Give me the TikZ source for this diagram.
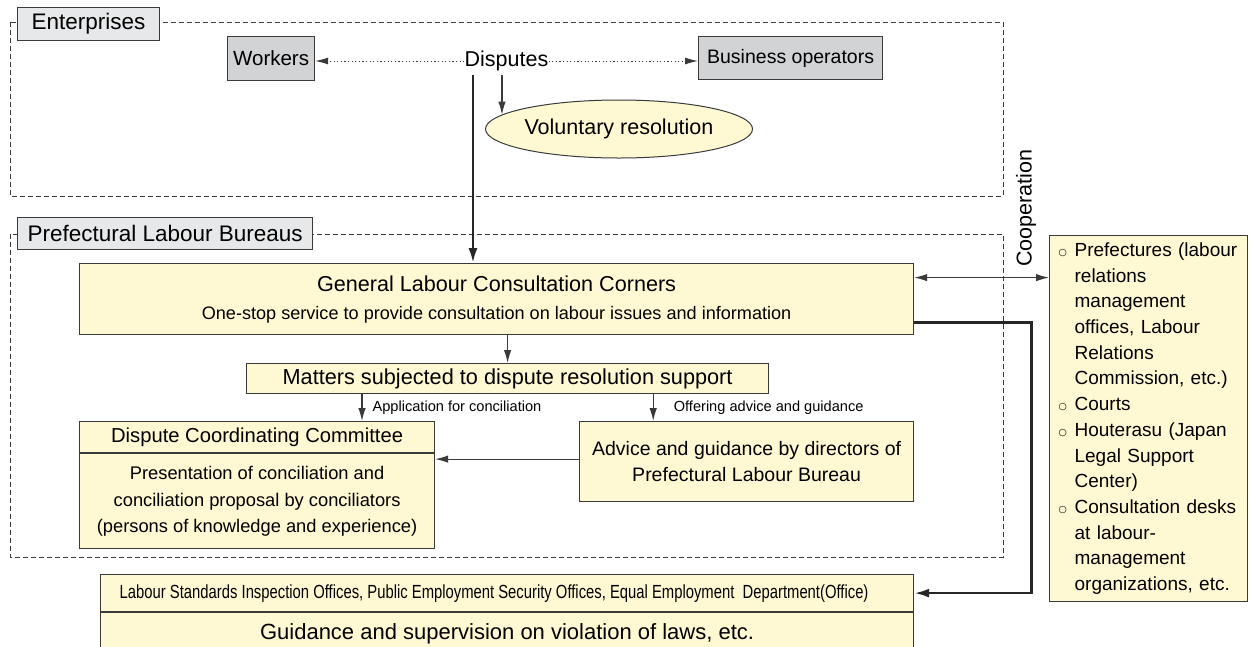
\documentclass[tikz,border=0pt]{standalone}
\usepackage{fontspec}
\setmainfont{Liberation Sans}
\newfontfamily\narrowfont[FakeStretch=0.78]{Liberation Sans}
\newfontfamily\bulletfont{DejaVu Sans}
\usetikzlibrary{arrows.meta,shapes.geometric}

\definecolor{boxyellow}{HTML}{FFF9D3}
\definecolor{partygray}{HTML}{D2D3D5}
\definecolor{taggray}{HTML}{E7E8E9}
\definecolor{edge}{HTML}{3A3A3A}
\newcommand\fsz[2]{\fontsize{#1}{#2}\selectfont}
\newcommand\bul{\makebox[16pt][l]{\raisebox{1pt}{\bulletfont\fsz{9.5}{9.5}○}}}
\newcommand\ind{\hspace*{16pt}}

\begin{document}
\begin{tikzpicture}[x=1pt, y=-1pt,
    zone/.style={draw=edge, line width=0.9, dash pattern=on 5pt off 3pt},
    tag/.style={draw=edge, fill=taggray, line width=1.2, inner sep=0, anchor=north west, font=\fsz{22.5}{26}},
    party/.style={draw=edge, fill=partygray, line width=1.2, inner sep=0, anchor=north west},
    yellowbox/.style={draw=edge, fill=boxyellow, line width=1.2, inner sep=0, anchor=north west, align=center},
    dotarrow/.style={draw=edge, line width=1, dash pattern=on 1.2pt off 2.4pt, -{Latex[length=13pt, width=7pt]}},
    thinarrow/.style={draw=edge, line width=1.2, -{Latex[length=13pt, width=7.5pt]}},
    twoway/.style={draw=edge, line width=1.2, {Latex[length=13pt, width=7.5pt]}-{Latex[length=13pt, width=7.5pt]}},
    mainarrow/.style={draw=black!85, line width=2.6, -{Latex[length=15pt, width=9pt]}},
    note/.style={font=\fsz{14.6}{17}, inner sep=0, anchor=west}]
    \useasboundingbox (0,0) rectangle (1253,646);

    % the two dashed zones
    \draw[zone] (10,22) rectangle (1003,196);
    \draw[zone] (10,234) rectangle (1003,557);
    \node[tag, minimum width=142, minimum height=33] (entlabel) at (17,7) {Enterprises};
    \node[tag, minimum width=295, minimum height=32] (plblabel) at (17,217) {Prefectural Labour Bureaus};

    % enterprises
    \node[party, minimum width=87, minimum height=44, font=\fsz{20.5}{24}] (workers) at (227,36) {Workers};
    \node[party, minimum width=184, minimum height=43, font=\fsz{19.5}{23}] (business) at (698,36) {Business operators};
    \node[inner sep=0, font=\fsz{21.5}{25}] (disputes) at (506.5,61) {Disputes};
    \node[ellipse, draw=edge, fill=boxyellow, line width=1, inner sep=0, minimum width=256, minimum height=58, font=\fsz{21.5}{25}] (voluntary) at (619,129) {Voluntary resolution};

    % bureaus
    \node[yellowbox, minimum width=834, minimum height=71, font=\fsz{18.1}{28}] (glcc) at (79,263)
        {{\fsz{21.6}{28}General Labour Consultation Corners}\\One-stop service to provide consultation on labour issues and information};
    \node[yellowbox, minimum width=522, minimum height=30, font=\fsz{21.7}{25}] (matters) at (246,363) {Matters subjected to dispute resolution support};
    \node[yellowbox, minimum width=355, minimum height=31, font=\fsz{20.2}{24}] (dcctitle) at (79,421) {Dispute Coordinating Committee};
    \node[yellowbox, minimum width=355, minimum height=95, font=\fsz{18.3}{26.5}] (dccbody) at (dcctitle.south west)
        {Presentation of conciliation and\\conciliation proposal by conciliators\\(persons of knowledge and experience)};
    \node[yellowbox, minimum width=334, minimum height=80, font=\fsz{19.5}{26}] (advice) at (579,421)
        {Advice and guidance by directors of\\Prefectural Labour Bureau};

    % offices below
    \node[yellowbox, minimum width=813, minimum height=37, font=\narrowfont\fsz{19}{22}] (lsotop) at (100,574)
        {Labour Standards Inspection Offices, Public Employment Security Offices, Equal Employment\ \ Department(Office)\hspace*{26pt}};
    \node[yellowbox, minimum width=813, minimum height=42, font=\fsz{22}{26}] (lsobottom) at (lsotop.south west)
        {Guidance and supervision on violation of laws, etc.};

    % partners on the right
    \node[yellowbox, align=left, text width=180, inner xsep=9, minimum height=366, font=\fsz{19}{25.7}] (coop) at (1049,235)
        {\bul Prefectures (labour\\\ind relations\\\ind management\\\ind offices, Labour\\\ind Relations\\\ind Commission, etc.)\\
         \bul Courts\\\bul Houterasu (Japan\\\ind Legal Support\\\ind Center)\\
         \bul Consultation desks\\\ind at labour-\\\ind management\\\ind organizations, etc.};
    \node[rotate=90, inner sep=0, font=\fsz{21.5}{25}] (cooplabel) at (1026,208) {Cooperation};

    % connectors
    \coordinate (dropstart) at ([shift={(8.5,4)}]disputes.south west);
    \coordinate (applyfrom) at ([xshift=116]matters.south west);
    \coordinate (offerfrom) at ([xshift=-116]matters.south east);
    \coordinate (backfrom) at ([yshift=2.5]advice.west);
    \coordinate (coopfrom) at ([yshift=21.5]glcc.east);
    \coordinate (lawfrom) at ([yshift=-23.5]glcc.east);

    \draw[dotarrow] (disputes.west) -- (disputes.west -| workers.east);
    \draw[dotarrow] (disputes.east) -- (disputes.east -| business.west);
    \draw[mainarrow] (dropstart) -- (dropstart |- glcc.north);
    \draw[thinarrow] (voluntary.173 |- dropstart) -- (voluntary.173);
    \draw[thinarrow] (glcc.south -| matters.north) -- (matters.north);
    \draw[thinarrow] (applyfrom) -- (applyfrom |- dcctitle.north) node[note, midway, xshift=10] {Application for conciliation};
    \draw[thinarrow] (offerfrom) -- (offerfrom |- advice.north) node[note, midway, xshift=20] {Offering advice and guidance};
    \draw[thinarrow] (backfrom) -- (backfrom -| dccbody.east);
    \draw[twoway] (coopfrom) -- (coopfrom -| coop.west);
    \draw[mainarrow] (lawfrom) -- ++(117,0) |- (lsotop.east);
\end{tikzpicture}
\end{document}
